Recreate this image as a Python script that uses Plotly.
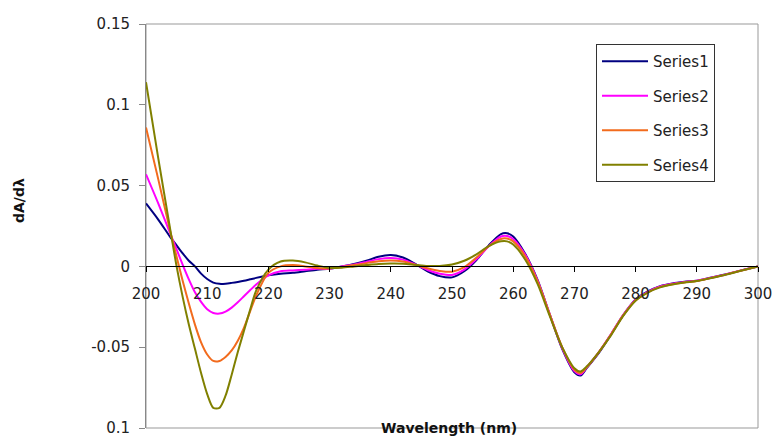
import plotly.graph_objects as go

wavelength = [200, 202, 204, 205, 206, 207, 208, 209, 210, 211, 212, 213, 214, 215, 216, 217, 218,
              220, 222, 224, 226, 228, 230, 232, 234, 236, 238, 240, 242, 244, 246, 248, 250, 252,
              254, 256, 258, 259, 260, 262, 264, 266, 268, 270, 271, 272, 274, 276, 278, 280, 282,
              284, 286, 288, 290, 292, 294, 296, 298, 300]

series1 = [0.039, 0.029, 0.018, 0.013, 0.008, 0.0035, 0.000, -0.0045, -0.0078, -0.0100, -0.0108, -0.0107,
           -0.0102, -0.0096, -0.0089, -0.0080, -0.0071,
           -0.0055, -0.0045, -0.004, -0.003, -0.002, -0.0015, 0.000, 0.0015, 0.0035, 0.0060, 0.0070, 0.0055,
           0.0015, -0.0030, -0.0060, -0.0068, -0.0030, 0.0040, 0.0130, 0.0200, 0.0205, 0.0185, 0.0075,
           -0.0085, -0.0300, -0.0510, -0.0655, -0.0675, -0.0630, -0.0535, -0.0420, -0.0300, -0.0205,
           -0.0155, -0.0122, -0.0105, -0.0095, -0.0088, -0.0072, -0.0055, -0.0037, -0.0018, 0.0]

series2 = [0.057, 0.039, 0.020, 0.0105, 0.001, -0.008, -0.016, -0.022, -0.0265, -0.0288, -0.0292, -0.0280,
           -0.0255, -0.0222, -0.0185, -0.0148, -0.0112,
           -0.0055, -0.0030, -0.0025, -0.0020, -0.0015, -0.0015, 0.000, 0.0012, 0.0028, 0.0045, 0.0052,
           0.0042, 0.0012, -0.0022, -0.0045, -0.0053, -0.0020, 0.0045, 0.0125, 0.0185, 0.0188, 0.0170,
           0.0070, -0.0090, -0.0300, -0.0505, -0.0648, -0.0668, -0.0625, -0.0530, -0.0418, -0.0300,
           -0.0207, -0.0157, -0.0124, -0.0107, -0.0097, -0.0089, -0.0073, -0.0056, -0.0037, -0.0018, 0.0]

series3 = [0.086, 0.054, 0.021, 0.006, -0.009, -0.023, -0.036, -0.047, -0.0545, -0.0585, -0.0585, -0.0560,
           -0.0520, -0.0460, -0.0380, -0.0280, -0.0180,
           -0.004, 0.0000, 0.0008, 0.0000, -0.0010, -0.0013, -0.0003, 0.0008, 0.0020, 0.0032, 0.0037,
           0.0030, 0.0010, -0.0012, -0.0028, -0.0033, -0.0005, 0.0055, 0.0125, 0.0170, 0.0172, 0.0155,
           0.0060, -0.0095, -0.0300, -0.0500, -0.0640, -0.0660, -0.0625, -0.0530, -0.0420, -0.0302,
           -0.0210, -0.0160, -0.0127, -0.0110, -0.0099, -0.0090, -0.0074, -0.0057, -0.0038, -0.0019, 0.0]

series4 = [0.114, 0.067, 0.022, 0.000, -0.019, -0.036, -0.051, -0.066, -0.079, -0.0875, -0.0875, -0.080,
           -0.067, -0.053, -0.040, -0.027, -0.015,
           -0.002, 0.0030, 0.0036, 0.0025, 0.0005, -0.0010, -0.0008, 0.0000, 0.0008, 0.0015, 0.0018,
           0.0017, 0.0010, 0.0003, 0.0003, 0.0012, 0.0035, 0.0075, 0.0125, 0.0155, 0.0155, 0.0135,
           0.0040, -0.0110, -0.0310, -0.0500, -0.0630, -0.0650, -0.0620, -0.0530, -0.0425, -0.0305,
           -0.0212, -0.0162, -0.0130, -0.0112, -0.0100, -0.0091, -0.0075, -0.0058, -0.0039, -0.0019, 0.0]

names = ["Series1", "Series2", "Series3", "Series4"]
colors = ["#000080", "#FF00FF", "#F26B1D", "#808000"]

x_ticks = [200, 210, 220, 230, 240, 250, 260, 270, 280, 290, 300]
y_ticks = [-0.1, -0.05, 0, 0.05, 0.1, 0.15]
y_ticktext = ["0.1", "-0.05", "0", "0.05", "0.1", "0.15"]

FONT = "DejaVu Sans, Arial, sans-serif"

fig = go.Figure()
for i, (name, ys) in enumerate(zip(names, [series1, series2, series3, series4])):
    fig.add_trace(go.Scatter(
        x=wavelength, y=ys, mode="lines", name=name,
        line=dict(color=colors[i], width=2, shape="spline", smoothing=0.8),
        legendgroup=name,
    ))

fig.update_layout(
    width=775, height=439,
    margin=dict(l=146, r=17, t=24, b=11),
    paper_bgcolor="white", plot_bgcolor="white",
    font=dict(family=FONT, size=15, color="#222222"),
    showlegend=True,
    legend=dict(
        x=(596 - 146) / 612, y=(428 - 44) / 404, xanchor="left", yanchor="top",
        bgcolor="white", bordercolor="#333333", borderwidth=1,
        font=dict(family=FONT, size=15, color="#222222"),
        tracegroupgap=12, itemwidth=46,
    ),
    xaxis=dict(
        range=[200, 300], tickvals=x_ticks,
        showgrid=False, zeroline=False, automargin=False,
        showline=True, linecolor="black", linewidth=1,
        ticks="outside", ticklen=5, tickcolor="black",
        anchor="free", position=0.4,
        ticklabelstandoff=9,
    ),
    yaxis=dict(
        range=[-0.1, 0.15], tickvals=y_ticks, ticktext=y_ticktext,
        showgrid=False, zeroline=False, automargin=False,
        showline=True, linecolor="#888888", linewidth=1,
        ticks="outside", ticklen=6, tickcolor="#888888",
        ticklabelstandoff=6,
    ),
    shapes=[dict(type="rect", xref="paper", yref="paper", x0=0, x1=1, y0=0, y1=1,
                 line=dict(color="#999999", width=1), layer="below")],
    annotations=[
        dict(text="<b>Wavelength (nm)</b>", xref="paper", yref="paper",
             x=(449 - 146) / 612, y=(428 - 438) / 404, xanchor="center", yanchor="bottom",
             showarrow=False, font=dict(family=FONT, size=14, color="#111111")),
        dict(text="<b>dA/dλ</b>", xref="paper", yref="paper",
             x=(19 - 146) / 612, y=(428 - 200) / 404, xanchor="center", yanchor="middle",
             textangle=-90, showarrow=False, font=dict(family=FONT, size=14, color="#111111")),
    ],
)

fig.write_html("out.html")
